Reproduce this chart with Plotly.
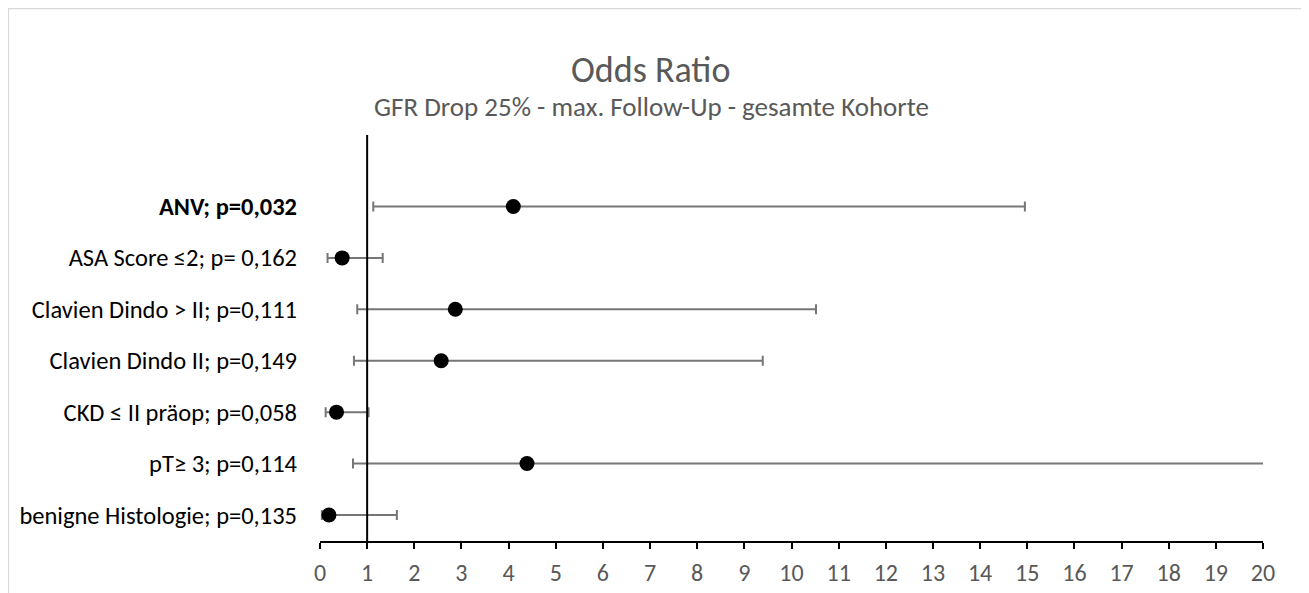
import plotly.graph_objects as go

categories = [
    "<b>ANV; p=0,032</b>",
    "ASA Score ≤2; p= 0,162",
    "Clavien Dindo > II; p=0,111",
    "Clavien Dindo II; p=0,149",
    "CKD ≤ II präop; p=0,058",
    "pT≥ 3; p=0,114",
    "benigne Histologie; p=0,135",
]
odds_ratio = [4.10, 0.47, 2.87, 2.57, 0.35, 4.39, 0.19]
ci_lower = [1.13, 0.16, 0.79, 0.72, 0.12, 0.70, 0.04]
ci_upper = [14.95, 1.33, 10.52, 9.39, 1.03, 24.0, 1.63]
x_ticks = list(range(0, 21))

n = len(categories)
y_pos = [n - i for i in range(n)]

FONT = "Calibri, Carlito, Lato, sans-serif"

fig = go.Figure()
fig.add_trace(go.Scatter(
    x=odds_ratio,
    y=y_pos,
    mode="markers",
    marker=dict(color="black", size=15),
    error_x=dict(
        type="data",
        symmetric=False,
        array=[u - v for u, v in zip(ci_upper, odds_ratio)],
        arrayminus=[v - l for v, l in zip(odds_ratio, ci_lower)],
        color="#767676",
        thickness=2,
        width=5,
    ),
    showlegend=False,
    hoverinfo="skip",
))

# vertical reference line at OR = 1 (axis crossing)
fig.add_shape(type="line", xref="x", yref="paper", x0=1, x1=1, y0=0, y1=1,
              line=dict(color="black", width=2))

# page offset of 8px (body margin)
OFF = 8
W, H = 1309 - OFF, 593 - OFF
L, R, T, B = 320 - OFF, 46, 135 - OFF, 52
pw, ph = W - L - R, H - T - B
def px_x(px):
    return (px - OFF - L) / pw
def px_y(py):
    return (H - B - (py - OFF)) / ph

fig.add_shape(type="rect", xref="paper", yref="paper",
              x0=px_x(8.5), x1=px_x(1305), y0=px_y(700), y1=px_y(8.5),
              line=dict(color="#d9d9d9", width=1.3), fillcolor="rgba(0,0,0,0)", layer="below")

fig.add_annotation(text="Odds Ratio", xref="paper", yref="paper",
                   x=px_x(650), y=px_y(70), showarrow=False,
                   font=dict(family=FONT, size=36, color="#595959"),
                   xanchor="center", yanchor="middle")
fig.add_annotation(text="GFR Drop 25% - max. Follow-Up - gesamte Kohorte", xref="paper", yref="paper",
                   x=px_x(651), y=px_y(106), showarrow=False,
                   font=dict(family=FONT, size=27, color="#595959"),
                   xanchor="center", yanchor="middle")

fig.update_layout(
    width=W, height=H,
    margin=dict(l=L, r=R, t=T, b=B, autoexpand=False),
    plot_bgcolor="white", paper_bgcolor="white",
    xaxis=dict(
        range=[0, 20], tickvals=x_ticks, ticktext=[str(t) for t in x_ticks],
        showgrid=False, zeroline=False, automargin=False,
        showline=True, linecolor="black", linewidth=2,
        ticks="outside", ticklen=6, tickwidth=2, tickcolor="black",
        ticklabelstandoff=3,
        tickfont=dict(family=FONT, size=24, color="#595959"),
    ),
    yaxis=dict(
        range=[0.494, 8.39], tickvals=y_pos, ticktext=categories,
        showgrid=False, zeroline=False, showline=False, automargin=False,
        ticks="", ticklabelstandoff=22,
        tickfont=dict(family=FONT, size=24.5, color="black"),
    ),
)

fig.write_html("out.html")
